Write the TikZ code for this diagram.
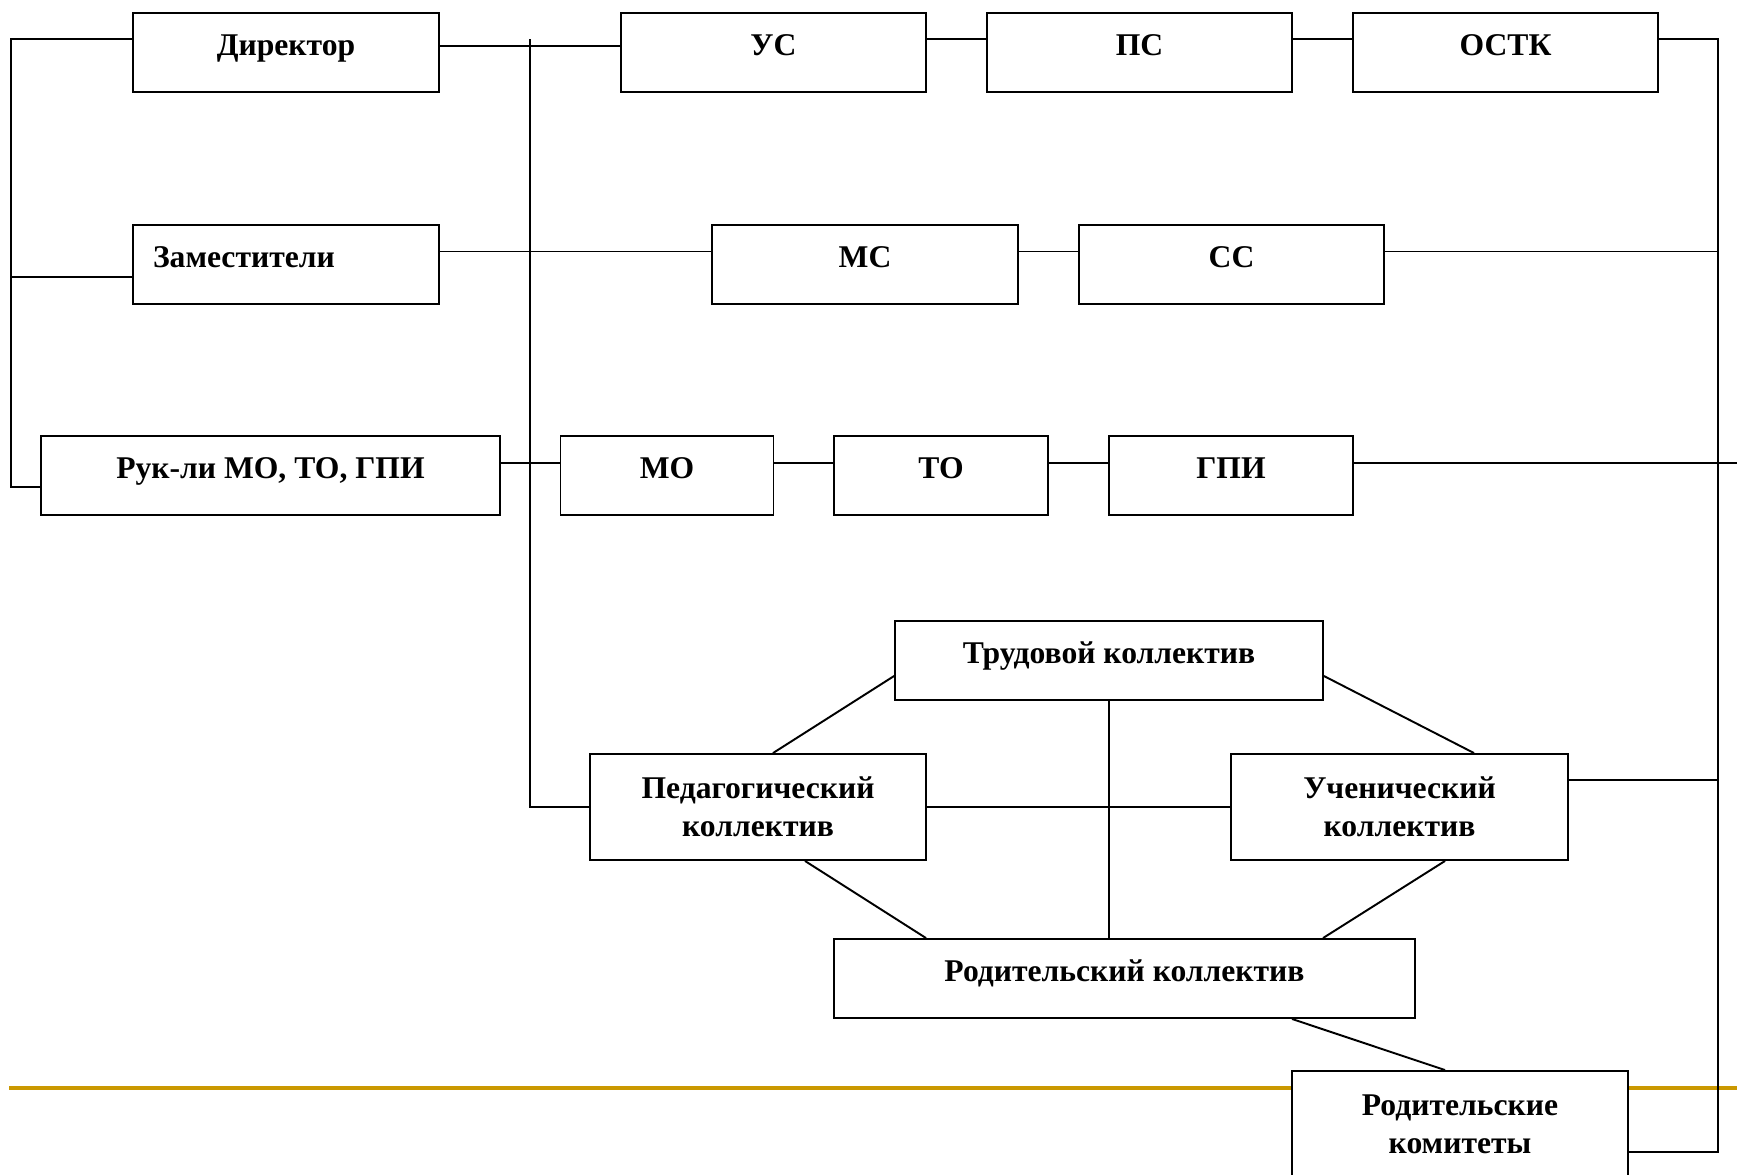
\documentclass[tikz,border=0pt]{standalone}
\usepackage{fontspec}
\setmainfont{Liberation Serif}
\usetikzlibrary{positioning}
\definecolor{rulegold}{RGB}{202,152,0}

\begin{document}
\begin{tikzpicture}[x=0.02cm, y=-0.02cm, line width=1.1pt]
        \tikzstyle{box}=[draw, rectangle, fill=white, inner sep=0pt, font=\bfseries\fontsize{18}{21.5}\selectfont]
        \tikzstyle{unit}=[box, text height=0.84cm, text depth=0.74cm]
        \tikzstyle{pair}=[box, align=center, minimum height=2.12cm]

        \useasboundingbox (0,0) rectangle (1737,1174);

        % Golden rule under the committees box
        \draw[rulegold, line width=2.3pt] (9,1088) -- (1737,1088);

        % First row: director and councils
        \node[unit, minimum width=6.12cm] (dir) at (286,52.5) {Директор};
        \foreach \name / \x / \txt in {us/773.5/УС, ps/1139.5/ПС, ostk/1505.5/ОСТК}
            \node[unit, minimum width=6.1cm] (\name) at (\x,52.5) {\txt};

        % Second row
        \node[unit, text width=5.32cm, inner xsep=0.4cm, align=left] (zam) at (286,264.5) {Заместители};
        \node[unit, minimum width=6.12cm] (ms) at (865,264.5) {МС};
        \node[unit, minimum width=6.1cm] (ss) at (1231.5,264.5) {СС};

        % Third row
        \node[unit, minimum width=9.18cm] (ruk) at (270.5,475.5) {Рук-ли МО, ТО, ГПИ};
        \node[unit, minimum width=4.26cm] (mo) at (667,475.5) {МО};
        \node[unit, minimum width=4.28cm] (to) at (941,475.5) {ТО};
        \node[unit, minimum width=4.88cm] (gpi) at (1231,475.5) {ГПИ};

        % Collectives
        \node[unit, minimum width=8.56cm] (trud) at (1109,660.5) {Трудовой коллектив};
        \node[pair, minimum width=6.72cm] (ped) at (758,807) {Педагогический\\коллектив};
        \node[pair, minimum width=6.74cm] (uch) at (1399.5,807) {Ученический\\коллектив};
        \node[unit, minimum width=11.62cm] (rodk) at (1124.5,978.5) {Родительский коллектив};
        \node[pair, minimum width=6.72cm] (rodcom) at (1460,1124) {Родительские\\комитеты};

        % Left bus
        \draw (dir.west |- 0,39) -- (11,39) -- (11,487) -- (ruk.west |- 0,487);
        \draw (11,277) -- (zam.west |- 0,277);

        % Spine from director down to the pedagogical collective
        \draw (530,39) -- (530,807) -- (ped.west);

        % Row links
        \draw (dir.east |- 0,46) -- (us.west |- 0,46);
        \draw (us.east |- 0,39) -- (ps.west |- 0,39);
        \draw (ps.east |- 0,39) -- (ostk.west |- 0,39);
        \draw (zam.east |- 0,251.5) -- (ms.west |- 0,251.5);
        \draw (ms.east |- 0,251.5) -- (ss.west |- 0,251.5);
        \draw (ruk.east |- 0,463) -- (mo.west |- 0,463);
        \draw (mo.east |- 0,463) -- (to.west |- 0,463);
        \draw (to.east |- 0,463) -- (gpi.west |- 0,463);

        % Right bus
        \draw (ostk.east |- 0,39) -- (1718,39) -- (1718,1152) -- (rodcom.east |- 0,1152);
        \draw (ss.east |- 0,251.5) -- (1718,251.5);
        \draw (gpi.east |- 0,463) -- (1737,463);
        \draw (uch.east |- 0,780) -- (1718,780);

        % Links between the collectives
        \draw (trud.west |- 0,676) -- (ped.north -| 773,0);
        \draw (trud.east |- 0,676) -- (uch.north -| 1474,0);
        \draw (trud.south) -- (rodk.north -| trud.south);
        \draw (ped.east) -- (uch.west);
        \draw (ped.south -| 805,0) -- (rodk.north -| 926,0);
        \draw (uch.south -| 1445,0) -- (rodk.north -| 1323,0);
        \draw (rodk.south -| 1292,0) -- (rodcom.north -| 1445,0);

\end{tikzpicture}
\end{document}
